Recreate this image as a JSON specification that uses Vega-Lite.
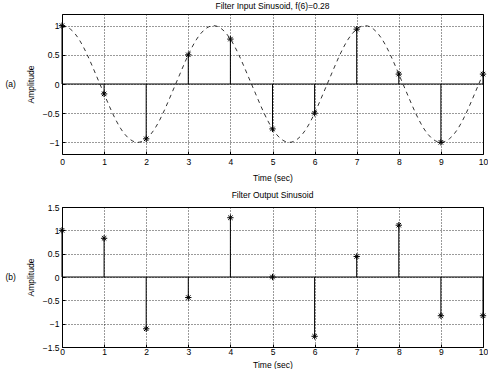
{
  "$schema": "https://vega.github.io/schema/vega-lite/v6.json",
  "padding": {"left": 4, "top": 1, "right": 0, "bottom": 0},
  "background": "white",
  "config": {
    "font": "Liberation Sans",
    "view": {"stroke": "black", "strokeWidth": 1},
    "axis": {
      "grid": true, "gridColor": "black", "gridDash": [1, 2], "gridWidth": 0.8, "gridOpacity": 1,
      "domain": false, "ticks": true, "tickSize": -3, "tickColor": "black", "tickWidth": 1,
      "labelFont": "Liberation Sans", "labelFontSize": 8.5, "labelColor": "black",
      "labelFlush": false, "labelOverlap": false, "format": "~f",
      "titleFont": "Liberation Sans", "titleFontSize": 8.5, "titleFontWeight": "normal", "titleColor": "black"
    },
    "axisX": {"labelPadding": 6.5, "titlePadding": 7},
    "axisY": {"labelPadding": 6, "titlePadding": 7},
    "title": {"font": "Liberation Sans", "fontSize": 8.5, "fontWeight": "normal", "color": "black", "anchor": "middle", "offset": 4}
  },
  "datasets": {
    "curve": [
      {"t": 0, "v": 1}, {"t": 0.2, "v": 0.94}, {"t": 0.4, "v": 0.77}, {"t": 0.6, "v": 0.5}, {"t": 0.8, "v": 0.17},
      {"t": 1.0, "v": -0.17}, {"t": 1.2, "v": -0.5}, {"t": 1.4, "v": -0.77}, {"t": 1.6, "v": -0.94}, {"t": 1.8, "v": -1},
      {"t": 2.0, "v": -0.94}, {"t": 2.2, "v": -0.77}, {"t": 2.4, "v": -0.5}, {"t": 2.6, "v": -0.17}, {"t": 2.8, "v": 0.17},
      {"t": 3.0, "v": 0.5}, {"t": 3.2, "v": 0.77}, {"t": 3.4, "v": 0.94}, {"t": 3.6, "v": 1}, {"t": 3.8, "v": 0.94},
      {"t": 4.0, "v": 0.77}, {"t": 4.2, "v": 0.5}, {"t": 4.4, "v": 0.17}, {"t": 4.6, "v": -0.17}, {"t": 4.8, "v": -0.5},
      {"t": 5.0, "v": -0.77}, {"t": 5.2, "v": -0.94}, {"t": 5.4, "v": -1}, {"t": 5.6, "v": -0.94}, {"t": 5.8, "v": -0.77},
      {"t": 6.0, "v": -0.5}, {"t": 6.2, "v": -0.17}, {"t": 6.4, "v": 0.17}, {"t": 6.6, "v": 0.5}, {"t": 6.8, "v": 0.77},
      {"t": 7.0, "v": 0.94}, {"t": 7.2, "v": 1}, {"t": 7.4, "v": 0.94}, {"t": 7.6, "v": 0.77}, {"t": 7.8, "v": 0.5},
      {"t": 8.0, "v": 0.17}, {"t": 8.2, "v": -0.17}, {"t": 8.4, "v": -0.5}, {"t": 8.6, "v": -0.77}, {"t": 8.8, "v": -0.94},
      {"t": 9.0, "v": -1}, {"t": 9.2, "v": -0.94}, {"t": 9.4, "v": -0.77}, {"t": 9.6, "v": -0.5}, {"t": 9.8, "v": -0.17},
      {"t": 10, "v": 0.17}
    ],
    "input": [
      {"t": 0, "v": 1}, {"t": 1, "v": -0.17}, {"t": 2, "v": -0.94}, {"t": 3, "v": 0.5}, {"t": 4, "v": 0.77},
      {"t": 5, "v": -0.77}, {"t": 6, "v": -0.5}, {"t": 7, "v": 0.94}, {"t": 8, "v": 0.17}, {"t": 9, "v": -1},
      {"t": 10, "v": 0.17}
    ],
    "output": [
      {"t": 0, "v": 1}, {"t": 1, "v": 0.83}, {"t": 2, "v": -1.11}, {"t": 3, "v": -0.44}, {"t": 4, "v": 1.27},
      {"t": 5, "v": 0}, {"t": 6, "v": -1.27}, {"t": 7, "v": 0.44}, {"t": 8, "v": 1.11}, {"t": 9, "v": -0.83},
      {"t": 10, "v": -0.83}
    ]
  },
  "bounds": "flush",
  "spacing": 53,
  "vconcat": [
    {
      "width": 421,
      "height": 140,
      "title": {"text": "Filter Input Sinusoid, f(6)=0.28"},
      "layer": [
        {
          "data": {"name": "input"},
          "mark": {"type": "rule", "color": "black", "strokeWidth": 1},
          "encoding": {
            "x": {"field": "t", "type": "quantitative", "scale": {"domain": [0, 10], "nice": false},
                  "axis": {"values": [0, 1, 2, 3, 4, 5, 6, 7, 8, 9, 10], "title": "Time (sec)", "format": "~f"}},
            "y": {"field": "v", "type": "quantitative", "scale": {"domain": [-1.2, 1.2], "nice": false, "zero": false},
                  "axis": {"values": [-1, -0.5, 0, 0.5, 1], "title": "Amplitude", "format": "~f", "labelOverlap": false, "tickCount": 5}},
            "y2": {"datum": 0}
          }
        },
        {
          "data": {"values": [{"z": 0}]},
          "mark": {"type": "rule", "color": "black", "strokeWidth": 1},
          "encoding": {"y": {"field": "z", "type": "quantitative"}}
        },
        {
          "data": {"name": "curve"},
          "mark": {"type": "line", "color": "black", "strokeWidth": 0.8, "strokeDash": [4, 4], "interpolate": "natural"},
          "encoding": {
            "x": {"field": "t", "type": "quantitative"},
            "y": {"field": "v", "type": "quantitative"}
          }
        },
        {
          "data": {"name": "input"},
          "mark": {"type": "point", "shape": "M-1,0L1,0M0,-1L0,1M-0.7,-0.7L0.7,0.7M-0.7,0.7L0.7,-0.7", "filled": false, "stroke": "black", "strokeWidth": 1, "size": 40, "opacity": 1},
          "encoding": {
            "x": {"field": "t", "type": "quantitative"},
            "y": {"field": "v", "type": "quantitative"}
          }
        },
        {
          "data": {"values": [{"label": "(a)"}]},
          "mark": {"type": "text", "fontSize": 8.5, "color": "black", "align": "center", "baseline": "middle", "font": "Liberation Sans"},
          "encoding": {
            "x": {"datum": -1.22},
            "y": {"datum": 0},
            "text": {"field": "label"}
          }
        }
      ]
    },
    {
      "width": 421,
      "height": 140,
      "title": {"text": "Filter Output Sinusoid"},
      "layer": [
        {
          "data": {"name": "output"},
          "mark": {"type": "rule", "color": "black", "strokeWidth": 1},
          "encoding": {
            "x": {"field": "t", "type": "quantitative", "scale": {"domain": [0, 10], "nice": false},
                  "axis": {"values": [0, 1, 2, 3, 4, 5, 6, 7, 8, 9, 10], "title": "Time (sec)", "format": "~f", "labelPadding": 3.5, "titlePadding": 4}},
            "y": {"field": "v", "type": "quantitative", "scale": {"domain": [-1.5, 1.5], "nice": false, "zero": false},
                  "axis": {"values": [-1.5, -1, -0.5, 0, 0.5, 1, 1.5], "title": "Amplitude", "format": "~f", "labelOverlap": false, "tickCount": 7}},
            "y2": {"datum": 0}
          }
        },
        {
          "data": {"values": [{"z": 0}]},
          "mark": {"type": "rule", "color": "black", "strokeWidth": 1},
          "encoding": {"y": {"field": "z", "type": "quantitative"}}
        },
        {
          "data": {"name": "output"},
          "mark": {"type": "point", "shape": "M-1,0L1,0M0,-1L0,1M-0.7,-0.7L0.7,0.7M-0.7,0.7L0.7,-0.7", "filled": false, "stroke": "black", "strokeWidth": 1, "size": 40, "opacity": 1},
          "encoding": {
            "x": {"field": "t", "type": "quantitative"},
            "y": {"field": "v", "type": "quantitative"}
          }
        },
        {
          "data": {"values": [{"label": "(b)"}]},
          "mark": {"type": "text", "fontSize": 8.5, "color": "black", "align": "center", "baseline": "middle", "font": "Liberation Sans"},
          "encoding": {
            "x": {"datum": -1.22},
            "y": {"datum": 0},
            "text": {"field": "label"}
          }
        }
      ]
    }
  ]
}
